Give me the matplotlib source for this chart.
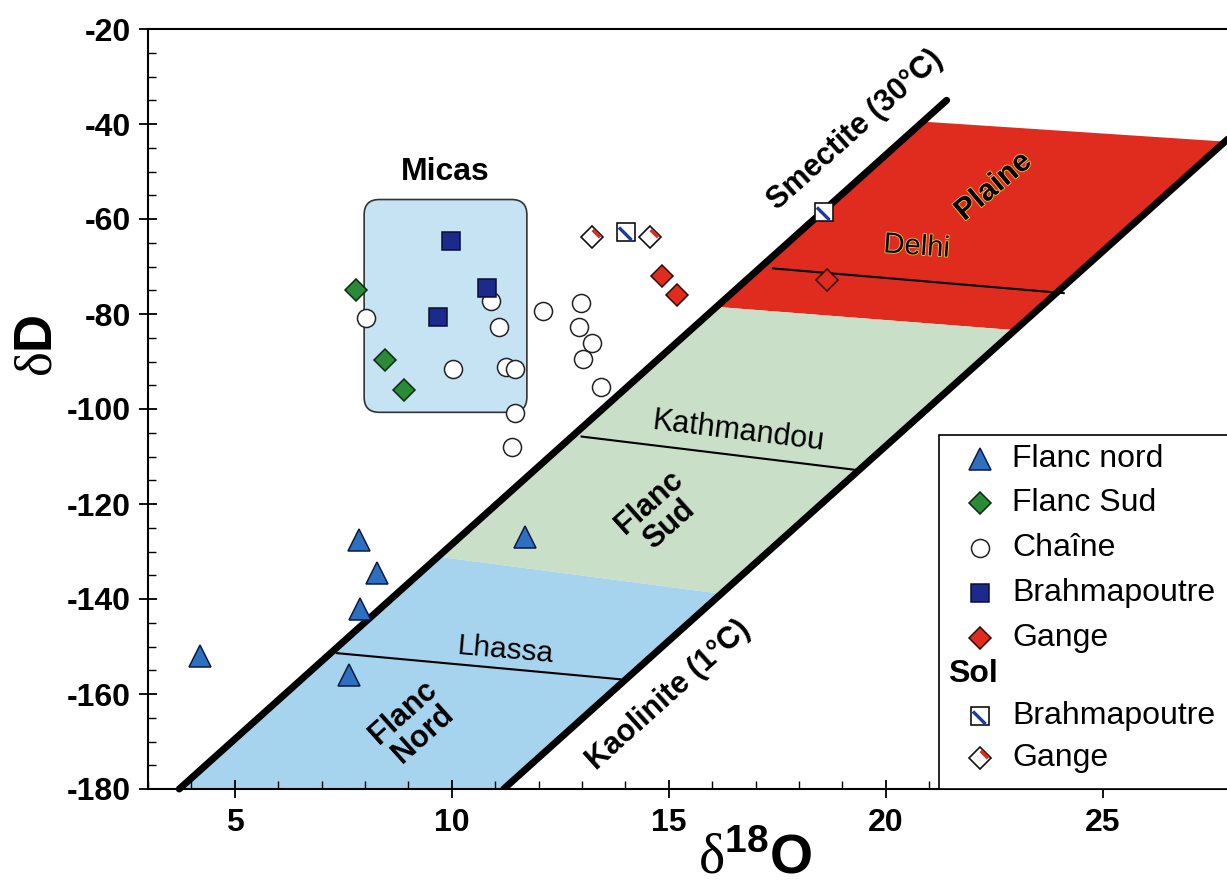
import numpy as np
import matplotlib
matplotlib.use('Agg')
import matplotlib.pyplot as plt
from matplotlib.path import Path
from matplotlib.patches import Polygon, FancyBboxPatch, Rectangle
from matplotlib.ticker import MultipleLocator
import matplotlib.patheffects as pe

plt.rcParams['font.family'] = ['Liberation Sans', 'DejaVu Sans']
plt.rcParams['mathtext.fontset'] = 'custom'
plt.rcParams['mathtext.rm'] = 'Liberation Serif'
plt.rcParams['mathtext.bf'] = 'Liberation Sans:bold'
plt.rcParams['axes.unicode_minus'] = False

# --- echantillons (d18O, dD) ---
flanc_nord_x = [7.86, 8.27, 7.88, 4.20, 7.63, 11.69]
flanc_nord_y = [-127.6, -134.5, -142.0, -151.9, -156.0, -126.9]

flanc_sud_x = [7.79, 8.46, 8.91]
flanc_sud_y = [-74.9, -89.7, -96.1]

chaine_x = [8.02, 10.90, 11.09, 10.03, 11.26, 11.46, 11.46, 12.09, 12.97, 12.94,
            13.22, 13.02, 13.43, 11.38]
chaine_y = [-80.9, -77.3, -82.7, -91.6, -91.2, -91.6, -100.9, -79.3, -77.6, -82.7,
            -86.0, -89.5, -95.4, -107.9]

brahma_x = [9.98, 10.82, 9.68]
brahma_y = [-64.6, -74.6, -80.6]

gange_x = [14.84, 15.20, 18.64]
gange_y = [-72.1, -76.0, -72.8]

sol_brahma_x = [14.01, 18.58]
sol_brahma_y = [-62.7, -58.6]

sol_gange_x = [13.22, 14.57]
sol_gange_y = [-63.7, -63.7]

# --- droites d'equilibre dD = 8.2 d18O + b ---
SLOPE = 8.2
smectite_b = -210.5
kaolinite_b = -271.8
smectite_dD = [-180, -35.0]
kaolinite_dD = [-180, -38.0]

# zones: (dD cote smectite, dD cote kaolinite) haut puis bas
zone_plaine = [(-39.5, -43.7), (-78.5, -83.4)]
zone_sud = [(-78.5, -83.4), (-131.1, -138.9)]
zone_nord = [(-131.1, -138.9), (-180.0, -180.0)]

# isolignes des villes
delhi_x, delhi_y = [17.4, 24.1], [-70.4, -75.6]
kathmandou_x, kathmandou_y = [12.99, 19.29], [-105.8, -112.8]
lhassa_x, lhassa_y = [7.35, 13.88], [-151.4, -156.9]

# cadre micas
micas_x = [7.98, 11.73]
micas_y = [-100.7, -55.9]


def x_on(b, dD):
    return (np.asarray(dD, dtype=float) - b) / SLOPE


def zone_poly(zone):
    (ts, tk), (bs, bk) = zone
    return [(x_on(smectite_b, ts), ts), (x_on(kaolinite_b, tk), tk),
            (x_on(kaolinite_b, bk), bk), (x_on(smectite_b, bs), bs)]


def stripe(p0, p1):
    # le point fictif (0.5, 0.5) fixe l'echelle du marqueur
    return Path([(0.5, 0.5), p0, p1], [Path.MOVETO, Path.MOVETO, Path.LINETO])


fig = plt.figure(figsize=(12.27, 8.85), dpi=100)
ax = fig.add_axes([148 / 1227, 96 / 885, 1128.4 / 1227, 760 / 885])
ax.set_xlim(3, 29)
ax.set_ylim(-180, -20)

red = '#df2c1e'
green = '#c9dfc8'
blue = '#a6d3ee'
for zone, col in [(zone_plaine, red), (zone_sud, green), (zone_nord, blue)]:
    ax.add_patch(Polygon(zone_poly(zone), closed=True, facecolor=col,
                         edgecolor='none', zorder=1))

for lx, ly in [(delhi_x, delhi_y), (kathmandou_x, kathmandou_y), (lhassa_x, lhassa_y)]:
    ax.plot(lx, ly, color='black', lw=1.5, zorder=2)

ax.plot(x_on(smectite_b, smectite_dD), smectite_dD, color='black', lw=5,
        solid_capstyle='round', zorder=3, clip_on=False)
ax.plot(x_on(kaolinite_b, kaolinite_dD), kaolinite_dD, color='black', lw=5,
        solid_capstyle='round', zorder=3)

# boite micas aux coins arrondis
aspect = (160 / 760) / (26 / 1128.4)
ax.add_patch(FancyBboxPatch((micas_x[0], micas_y[0]), micas_x[1] - micas_x[0],
                            micas_y[1] - micas_y[0],
                            boxstyle='round,pad=0,rounding_size=0.35',
                            mutation_aspect=aspect, facecolor='#c6e3f3',
                            edgecolor='#333333', lw=1.2, zorder=1.5))
ax.text(np.mean(micas_x), -50.1, 'Micas', ha='center', va='center',
        fontsize=23, fontweight='bold', zorder=5)

sq_stripe = stripe((-0.42, 0.28), (0.28, -0.42))
di_stripe = stripe((0.02, 0.5), (0.5, 0.02))

styles = {
    'Flanc nord': dict(marker='^', ms=16, mfc='#2e6fbf', mec='#0a1a40', mew=1.1),
    'Flanc Sud': dict(marker='D', ms=11.5, mfc='#2a8a38', mec='#0a2a10', mew=1.1),
    'Chaîne': dict(marker='o', ms=13, mfc='white', mec='#222222', mew=1.1),
    'Brahmapoutre': dict(marker='s', ms=13.5, mfc='#1b2a8c', mec='#0a0f30', mew=1.1),
    'Gange': dict(marker='D', ms=11, mfc=red, mec='#300a05', mew=1.1),
    'sol_b': dict(marker='s', ms=13, mfc='white', mec='#111111', mew=1.2),
    'sol_g': dict(marker='D', ms=11, mfc='white', mec='#111111', mew=1.2),
}
stripes = {
    'sol_b': dict(marker=sq_stripe, ms=13, mfc='none', mec='#1b3aa0', mew=2.4),
    'sol_g': dict(marker=di_stripe, ms=11, mfc='none', mec=red, mew=2.6),
}

series = [
    ('Flanc nord', flanc_nord_x, flanc_nord_y),
    ('Flanc Sud', flanc_sud_x, flanc_sud_y),
    ('Chaîne', chaine_x, chaine_y),
    ('Brahmapoutre', brahma_x, brahma_y),
    ('Gange', gange_x, gange_y),
    ('sol_b', sol_brahma_x, sol_brahma_y),
    ('sol_g', sol_gange_x, sol_gange_y),
]
for key, sx, sy in series:
    ax.plot(sx, sy, ls='none', zorder=4, **styles[key])
    if key in stripes:
        ax.plot(sx, sy, ls='none', zorder=4.5, **stripes[key])

# textes des zones
lines_angle = np.degrees(np.arctan(SLOPE * (760 / 160) / (1128.4 / 26)))
bold = dict(fontweight='bold', fontsize=22, ha='center', va='center',
            rotation_mode='anchor', zorder=5)
ax.text(19.29, -41.3, 'Smectite (30°C)', rotation=lines_angle, **bold)
ax.text(15.0, -160.3, 'Kaolinite (1°C)', rotation=lines_angle, **bold)
ax.text(14.77, -122.0, 'Flanc\nSud', rotation=lines_angle, linespacing=1.0, **bold)
ax.text(9.11, -166.2, 'Flanc\nNord', rotation=lines_angle, linespacing=1.0, **bold)
halo = [pe.withStroke(linewidth=1.2, foreground='#f0c848')]
ax.text(22.48, -53.2, 'Plaine', rotation=40, path_effects=halo, **bold)
ax.text(20.71, -65.8, 'Delhi', rotation=-4, fontsize=21, ha='center', va='center',
        rotation_mode='anchor', path_effects=halo, zorder=5)
ax.text(16.60, -104.8, 'Kathmandou', rotation=-7, fontsize=22, ha='center',
        va='center', rotation_mode='anchor', zorder=5)
ax.text(11.23, -150.7, 'Lhassa', rotation=-5, fontsize=21.5, ha='center',
        va='center', rotation_mode='anchor', zorder=5)

# axes
ax.xaxis.set_major_locator(MultipleLocator(5))
ax.xaxis.set_minor_locator(MultipleLocator(1))
ax.yaxis.set_major_locator(MultipleLocator(20))
ax.yaxis.set_minor_locator(MultipleLocator(5))
ax.set_xticks([5, 10, 15, 20, 25])
ax.tick_params(which='major', direction='inout', length=13, width=1.3, labelsize=23)
ax.tick_params(which='minor', direction='in', length=6, width=1.0)
ax.tick_params(axis='x', which='major', pad=7)
ax.tick_params(axis='y', which='major', pad=6)
for lab in ax.get_xticklabels() + ax.get_yticklabels():
    lab.set_fontweight('bold')
for side in ['left', 'bottom', 'top']:
    ax.spines[side].set_linewidth(1.5)
ax.spines['right'].set_visible(False)

ax.set_ylabel(r'$\mathrm{\delta}\mathbf{D}$', fontsize=38, va='center', ha='center')
ax.yaxis.set_label_coords(-0.098, 0.584)
ax.set_xlabel(r'$\mathrm{\delta}^{\mathbf{18}}\mathbf{O}$', fontsize=40)
ax.xaxis.set_label_coords(0.538, -0.058)

# legende
ax.add_patch(Rectangle((0.701, 0.0), 0.4, 0.4658, transform=ax.transAxes,
                       facecolor='white', edgecolor='black', lw=1.2,
                       zorder=6, clip_on=False))
legend_rows = [
    ('Flanc nord', 'Flanc nord', 0.434),
    ('Flanc Sud', 'Flanc Sud', 0.376),
    ('Chaîne', 'Chaîne', 0.317),
    ('Brahmapoutre', 'Brahmapoutre', 0.258),
    ('Gange', 'Gange', 0.199),
    (None, 'Sol', 0.151),
    ('sol_b', 'Brahmapoutre', 0.096),
    ('sol_g', 'Gange', 0.041),
]
for key, label, ly in legend_rows:
    if key is None:
        ax.text(0.709, ly, label, transform=ax.transAxes, fontsize=23,
                fontweight='bold', va='center', zorder=7)
        continue
    ax.plot([0.7373], [ly], transform=ax.transAxes, ls='none', clip_on=False,
            zorder=7, **styles[key])
    if key in stripes:
        ax.plot([0.7373], [ly], transform=ax.transAxes, ls='none', clip_on=False,
                zorder=7.5, **stripes[key])
    ax.text(0.7657, ly, label, transform=ax.transAxes, fontsize=23,
            va='center', zorder=7)

fig.savefig('out.png', dpi=100)
